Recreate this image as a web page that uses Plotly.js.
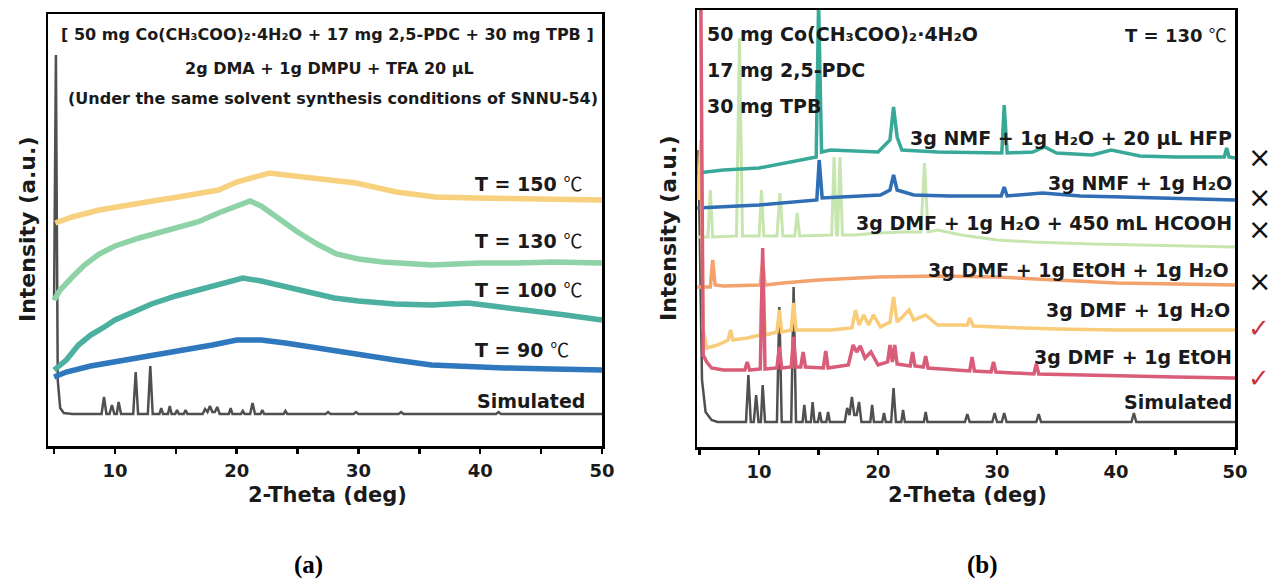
<!DOCTYPE html>
<html><head><meta charset="utf-8">
<script src="https://cdn.plot.ly/plotly-3.0.1.min.js"></script>
<style>html,body{margin:0;padding:0;background:#fff;} #chart{width:1271px;height:581px;}</style>
</head><body><div id="chart"></div>
<script>
// ---------- Panel (a): [2-theta (deg), intensity (a.u.)] ----------
const a_T150 = [[5.1,223],[6.5,229],[8.7,236],[10.5,240],[12.0,243],[13.6,246],[15.2,249],[16.8,252],[18.5,256],[20.0,264],[21.4,269],[22.7,273],[24.0,271],[26.6,268],[29.8,263],[33.1,254],[36.3,249],[39.6,248],[42.8,247],[46.0,247],[50.0,246]];
const a_T130 = [[5.0,146],[5.5,156],[6.5,169],[7.5,181],[8.7,192],[10.0,200],[12.0,208],[13.6,213],[15.2,218],[16.8,224],[18.5,233],[20.0,240],[21.1,245],[22.0,240],[23.4,228],[25.0,214],[26.6,202],[28.2,192],[30.0,187],[32.0,184],[36.0,181],[40.0,183],[43.0,183],[46.0,184],[50.0,183]];
const a_T100 = [[5.0,76],[6.0,86],[7.0,101],[8.0,111],[9.0,118],[10.0,126],[11.5,134],[13.0,142],[15.0,150],[17.0,157],[19.0,163],[20.5,168],[22.0,165],[24.0,159],[26.0,153],[28.0,148],[30.0,145],[33.0,142],[36.0,141],[39.0,143],[41.0,140],[44.0,136],[47.0,131],[50.0,126]];
const a_T90 = [[5.0,69],[6.0,74],[8.0,80],[10.0,84],[13.0,90],[16.0,96],[18.0,101],[20.0,106],[22.0,106],[24.0,103],[26.0,99],[28.0,95],[30.0,91],[33.0,86],[36.0,81],[39.0,79],[42.0,78],[46.0,77],[50.0,76]];
const a_sim = [[5.0,146],[5.15,391],[5.3,66],[5.5,38],[5.8,33],[6.5,32],[8.9,32],[9.1,49],[9.3,32],[9.55,32],[9.75,41],[9.95,32],[10.15,32],[10.3,44],[10.5,32],[11.5,32],[11.7,74],[11.9,32],[12.7,32],[12.9,80],[13.1,32],[13.65,32],[13.8,38],[13.95,32],[14.35,32],[14.5,40],[14.65,32],[14.95,32],[15.1,36],[15.25,32],[15.65,32],[15.8,36],[15.95,32],[17.2,32],[17.4,37],[17.6,34],[17.8,40],[18.0,34],[18.2,34],[18.4,39],[18.6,32],[19.35,32],[19.5,38],[19.65,32],[20.35,32],[20.5,35],[20.65,32],[21.1,32],[21.3,43],[21.5,32],[21.95,32],[22.1,36],[22.25,32],[23.85,32],[24.0,35],[24.15,32],[27.3,32],[27.5,34],[27.7,32],[29.6,32],[29.8,34],[30.0,32],[33.3,32],[33.5,34],[33.7,32],[41.3,32],[41.5,34],[41.7,32],[50.0,32]];

// ---------- Panel (b) ----------
const b_HFP = [[4.8,274],[7.0,277],[10.0,279],[13.0,286],[14.8,290],[15.0,445],[15.25,295],[16.0,297],[18.0,296],[20.0,295],[21.0,307],[21.3,340],[21.6,310],[22.0,297],[25.0,295],[28.0,294],[30.4,294],[30.6,342],[30.85,294],[33.0,295],[34.0,300],[35.0,294],[38.0,292],[39.6,297],[42.0,291],[45.0,290],[49.1,290],[49.3,299],[49.5,290],[50.0,289]];
const b_NMF = [[4.8,239],[10.0,242],[14.85,247],[15.05,287],[15.3,249],[17.0,250],[20.2,252],[21.0,257],[21.3,272],[21.6,257],[23.0,252],[26.0,251],[30.35,251],[30.6,260],[30.85,251],[33.8,254],[37.0,251],[40.6,250],[45.0,249],[50.0,247]];
const b_HCOOH = [[4.8,210],[5.7,210],[5.9,257],[6.1,210],[8.1,211],[8.35,409],[8.6,211],[10.0,211],[10.2,257],[10.4,211],[11.5,211],[11.75,254],[12.0,211],[13.0,211],[13.2,234],[13.4,211],[16.1,212],[16.3,290],[16.5,212],[16.6,212],[16.8,290],[17.0,212],[18.0,212],[20.0,214],[22.0,215],[23.6,215],[23.9,284],[24.2,215],[25.0,217],[27.0,212],[30.0,207],[33.0,205],[38.0,203],[42.0,202],[46.0,201],[50.0,200]];
const b_EtOH_H2O = [[4.8,160],[5.9,160],[6.1,187],[6.3,162],[7.0,161],[10.1,162],[10.3,185],[10.5,162],[12.0,164],[15.0,167],[20.0,170],[25.0,171],[30.0,170],[35.0,167],[40.0,164],[45.0,163],[50.0,162]];
const b_H2O = [[4.9,247],[5.1,307],[5.3,117],[5.6,99],[6.5,102],[7.4,107],[7.6,117],[7.8,107],[9.0,109],[10.1,112],[10.3,177],[10.5,112],[11.5,115],[11.7,137],[11.9,115],[12.7,117],[12.9,144],[13.1,117],[14.0,117],[16.0,117],[17.8,119],[18.1,137],[18.4,122],[18.8,132],[19.2,122],[19.6,132],[20.2,120],[21.0,125],[21.3,150],[21.6,125],[22.2,132],[22.6,137],[23.0,127],[24.0,132],[25.0,122],[27.5,122],[27.7,129],[28.0,121],[30.0,120],[35.0,118],[40.0,117],[45.0,117],[50.0,117]];
const b_EtOH = [[5.05,447],[5.1,450],[5.3,92],[5.6,85],[6.0,79],[7.0,77],[8.8,77],[9.0,85],[9.2,77],[10.1,78],[10.3,199],[10.5,78],[11.5,79],[11.7,100],[11.9,79],[12.7,80],[12.9,110],[13.1,80],[13.5,80],[13.7,95],[13.9,80],[15.4,79],[15.6,96],[15.8,79],[17.5,82],[17.9,102],[18.2,95],[18.5,101],[18.9,89],[19.4,95],[20.0,82],[20.8,85],[21.0,102],[21.2,85],[21.4,102],[21.6,83],[22.7,81],[22.9,95],[23.1,81],[23.8,80],[24.0,91],[24.2,79],[27.7,76],[27.9,90],[28.1,76],[29.5,75],[29.7,85],[29.9,75],[33.1,73],[33.3,83],[33.5,73],[40.0,71],[45.0,70],[50.0,69]];
const b_sim = [[4.9,297],[5.2,67],[5.5,35],[6.0,27],[6.5,25],[8.9,25],[9.1,72],[9.3,25],[9.55,25],[9.75,52],[9.95,25],[10.15,25],[10.3,62],[10.5,25],[11.5,25],[11.7,140],[11.9,25],[12.7,25],[12.9,160],[13.1,25],[13.65,25],[13.8,42],[13.95,25],[14.35,25],[14.5,45],[14.65,25],[14.95,25],[15.1,35],[15.25,25],[15.65,25],[15.8,35],[15.95,25],[17.2,25],[17.4,39],[17.6,32],[17.8,50],[18.0,32],[18.2,32],[18.4,45],[18.6,25],[19.35,25],[19.5,42],[19.65,25],[20.35,25],[20.5,34],[20.65,25],[21.1,25],[21.3,59],[21.5,25],[21.95,25],[22.1,37],[22.25,25],[23.85,25],[24.0,35],[24.15,25],[27.3,25],[27.5,33],[27.7,25],[29.6,25],[29.8,34],[30.0,25],[30.4,25],[30.6,34],[30.8,25],[33.3,25],[33.5,33],[33.7,25],[41.3,25],[41.5,34],[41.7,25],[50.0,25]];

const majorTicks = [10, 20, 30, 40, 50];
const minorTicks = [5, 15, 25, 35, 45];

const W = 1271, H = 581;
function tr(pairs, color, width, xa, ya) {
  return {x: pairs.map(p => p[0]), y: pairs.map(p => p[1]), type: 'scatter', mode: 'lines',
    line: {color: color, width: width, shape: 'linear'}, xaxis: xa, yaxis: ya, hoverinfo: 'skip', showlegend: false};
}
const traces = [
  tr(a_sim, '#505050', 2.5, 'x', 'y'),
  tr(a_T90, '#2F78BD', 5.5, 'x', 'y'),
  tr(a_T100, '#4BB09F', 5.5, 'x', 'y'),
  tr(a_T130, '#8ED2A7', 5.5, 'x', 'y'),
  tr(a_T150, '#F8D17F', 5.5, 'x', 'y'),
  tr(b_sim, '#505050', 2.5, 'x2', 'y2'),
  tr(b_HCOOH, '#C7E6AF', 3, 'x2', 'y2'),
  tr(b_HFP, '#38A999', 3.5, 'x2', 'y2'),
  tr(b_NMF, '#2F6DB4', 3.5, 'x2', 'y2'),
  tr(b_EtOH_H2O, '#F4A26D', 3.5, 'x2', 'y2'),
  tr(b_H2O, '#F8CC79', 3.5, 'x2', 'y2'),
  tr(b_EtOH, '#D95C79', 3.5, 'x2', 'y2')
];

const FB = {family: 'DejaVu Sans', weight: 'bold', color: '#1a1a1a'};
function font(size, extra) { return Object.assign({}, FB, {size: size}, extra || {}); }
function A(text, xp, yp, xanchor, size, extra) {
  return {text: text, x: xp / W, y: 1 - yp / H, xref: 'paper', yref: 'paper', xanchor: xanchor || 'center',
    yanchor: 'middle', showarrow: false, borderpad: 0, font: font(size, extra)};
}
function deg(size) {
  return '<span style="font-family:\'Noto Sans CJK SC\';font-weight:normal;font-size:' + size + 'px">℃</span>';
}
const annotations = [
  A('[ 50 mg Co(CH₃COO)₂·4H₂O + 17 mg 2,5-PDC + 30 mg TPB ]', 327, 35, 'center', 16),
  A('2g DMA + 1g DMPU + TFA 20 μL', 329, 69, 'center', 16),
  A('(Under the same solvent synthesis conditions of SNNU-54)', 333, 98, 'center', 16),
  A('T = 150 ' + deg(19), 474, 182, 'left', 19),
  A('T = 130 ' + deg(19), 474, 240, 'left', 19),
  A('T = 100 ' + deg(19), 474, 288, 'left', 19),
  A('T = 90 ' + deg(19), 474, 348, 'left', 19),
  A('Simulated', 476, 401, 'left', 19),
  A('Intensity (a.u.)', 28, 230, 'center', 22),
  A('2-Theta (deg)', 327, 495, 'center', 21),
  A('(a)', 308, 565, 'center', 25, {family: 'Liberation Serif', color: '#000'}),

  A('50 mg Co(CH₃COO)₂·4H₂O', 706, 34, 'left', 19),
  A('17 mg 2,5-PDC', 706, 70, 'left', 19),
  A('30 mg TPB', 706, 106, 'left', 19),
  A('T = 130 ' + deg(18), 1124, 34, 'left', 18),
  A('3g NMF + 1g H₂O + 20 μL HFP', 1233, 138, 'right', 19),
  A('3g NMF + 1g H₂O', 1233, 183, 'right', 19),
  A('3g DMF + 1g H₂O + 450 mL HCOOH', 1233, 223, 'right', 19),
  A('3g DMF + 1g EtOH + 1g H₂O', 1230, 270, 'right', 19),
  A('3g DMF + 1g H₂O', 1231, 310, 'right', 19),
  A('3g DMF + 1g EtOH', 1233, 357, 'right', 19),
  A('Simulated', 1233, 402, 'right', 19),
  A('Intensity (a.u.)', 668, 228, 'center', 22),
  A('2-Theta (deg)', 967, 495, 'center', 21),
  A('(b)', 982, 565, 'center', 25, {family: 'Liberation Serif', color: '#000'}),

  A('×', 1259, 157, 'center', 28, {weight: 'normal', color: '#111'}),
  A('×', 1259, 198, 'center', 28, {weight: 'normal', color: '#111'}),
  A('×', 1259, 229, 'center', 28, {weight: 'normal', color: '#111'}),
  A('×', 1259, 282, 'center', 28, {weight: 'normal', color: '#111'}),
  A('✓', 1259, 328, 'center', 26, {weight: 'normal', color: '#C8323F'}),
  A('✓', 1259, 378, 'center', 26, {weight: 'normal', color: '#C8323F'})
];
annotations[8].textangle = -90;
annotations[22].textangle = -90;

function xax(domain, range) {
  return {domain: domain, range: range, showline: true, mirror: true, linecolor: '#000', linewidth: 2.5,
    ticks: 'outside', ticklen: 5, tickwidth: 2.5, tickcolor: '#000', tickmode: 'array', tickvals: majorTicks,
    ticklabelstandoff: 2,
    minor: {tickmode: 'array', tickvals: minorTicks, ticks: 'outside', ticklen: 5, tickwidth: 2.5, tickcolor: '#000', showgrid: false},
    tickfont: font(18), showgrid: false, zeroline: false, fixedrange: true};
}
function yax(domain, range, anchor) {
  return {domain: domain, range: range, anchor: anchor, showline: true, mirror: true, linecolor: '#000', linewidth: 2.5,
    ticks: '', showticklabels: false, showgrid: false, zeroline: false, fixedrange: true};
}
const layout = {
  width: W, height: H, margin: {l: 0, r: 0, t: 0, b: 0}, paper_bgcolor: '#fff', plot_bgcolor: '#fff',
  showlegend: false,
  xaxis: Object.assign(xax([48 / W, 602 / W], [4.5, 50]), {anchor: 'y'}),
  yaxis: yax([1 - 446 / H, 1 - 14 / H], [0, 432], 'x'),
  xaxis2: Object.assign(xax([697 / W, 1235 / W], [4.78, 50]), {anchor: 'y2'}),
  yaxis2: yax([1 - 447 / H, 1 - 10 / H], [0, 437], 'x2'),
  annotations: annotations
};
Plotly.newPlot('chart', traces, layout, {displayModeBar: false, staticPlot: true});
</script>
</body></html>
